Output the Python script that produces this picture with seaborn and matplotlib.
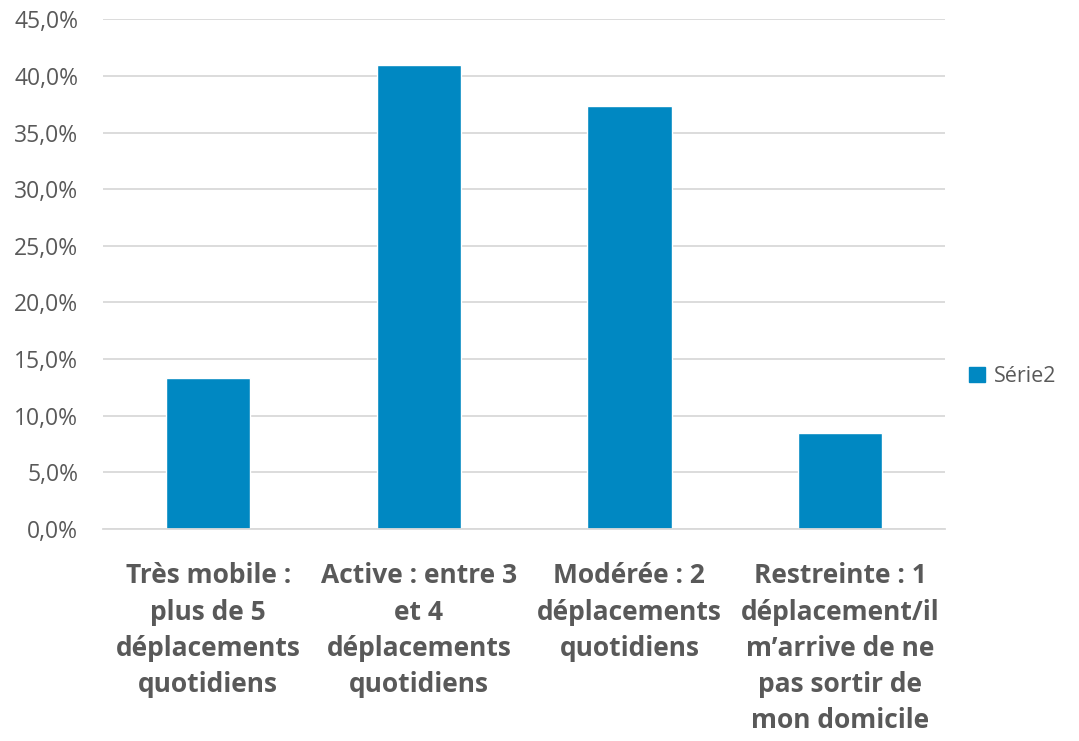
import matplotlib
matplotlib.use('Agg')
import matplotlib.pyplot as plt
import seaborn as sns
import pandas as pd
from matplotlib.ticker import FuncFormatter, MultipleLocator
from matplotlib.patches import Patch

categories = [
    "Très mobile :\nplus de 5\ndéplacements\nquotidiens",
    "Active : entre 3\net 4\ndéplacements\nquotidiens",
    "Modérée : 2\ndéplacements\nquotidiens",
    "Restreinte : 1\ndéplacement/il\nm\u2019arrive de ne\npas sortir de\nmon domicile",
]
values = [13.3, 41.0, 37.3, 8.45]
series_name = "Série2"

bar_color = "#0088c2"
text_color = "#595959"

sns.set_theme(style="white")
plt.rcParams['font.family'] = ['Open Sans', 'DejaVu Sans']

df = pd.DataFrame({'cat': categories, 'val': values})

fig = plt.figure(figsize=(10.79, 7.41), dpi=100)
ax = fig.add_axes([0.0955, 0.286, 0.7805, 0.688])
sns.barplot(data=df, x='cat', y='val', color=bar_color, width=0.4, ax=ax, saturation=1)

ax.set_ylim(0, 45)
ax.yaxis.set_major_locator(MultipleLocator(5))
ax.yaxis.set_major_formatter(FuncFormatter(lambda v, p: f"{v:.1f}%".replace('.', ',')))
ax.grid(axis='y', color='#d9d9d9', linewidth=1.3)
ax.set_axisbelow(True)
for s in ['top', 'right', 'left']:
    ax.spines[s].set_visible(False)
ax.spines['bottom'].set_color('#d9d9d9')
ax.spines['bottom'].set_linewidth(1.3)
ax.tick_params(axis='y', labelsize=16.5, colors=text_color, length=0, pad=18)
ax.tick_params(axis='x', labelsize=19, colors=text_color, length=0, pad=24)
for lbl in ax.get_xticklabels():
    lbl.set_fontweight('bold')
    lbl.set_linespacing(1.44)
ax.set_xlabel('')
ax.set_ylabel('')

handles = [Patch(color=bar_color, label=series_name)]
fig.legend(handles=handles, loc='center left', bbox_to_anchor=(0.88, 0.492),
           frameon=False, fontsize=15.5, labelcolor=text_color,
           handlelength=0.75, handleheight=0.75, handletextpad=0.4)

fig.savefig('out.png', dpi=100)
